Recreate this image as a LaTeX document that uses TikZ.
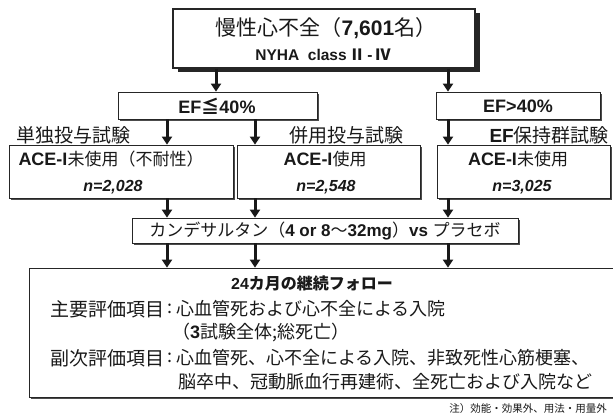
\documentclass[tikz,border=0pt]{standalone}
\usepackage{fontspec}
\setmainfont{Liberation Sans}
\newfontfamily\jp{Noto Sans CJK JP}
\newfontfamily\la{Liberation Sans}
\usetikzlibrary{arrows.meta,shadows}
\newcommand{\fs}[1]{\fontsize{#1}{#1}\selectfont}
\begin{document}
\begin{tikzpicture}[x=1pt,y=-1pt,
  box/.style={draw=black!85,line width=0.8pt,fill=white,inner sep=0pt,
    drop shadow={shadow xshift=1.5pt,shadow yshift=-1.5pt,fill=black!70,opacity=1}},
  bigshadow/.style={draw=black!85,line width=1.1pt,fill=white,inner sep=0pt,
    drop shadow={shadow xshift=4.5pt,shadow yshift=-4.5pt,fill=black!85,opacity=1}},
  arr/.style={line width=3pt,-{Triangle[width=10pt,length=8pt]},black!90},
  txt/.style={inner sep=0pt,text=black!90},
  jpt/.style={txt,font=\jp\fs{18}},
  lab/.style={txt,font=\jp\fs{19}},
]
\useasboundingbox (0,0) rectangle (613,420);
% column coordinates
\coordinate (xa) at (167,0);
\coordinate (xb) at (255,0);
\coordinate (xc) at (448,0);
\coordinate (xd) at (216,0);

% boxes
\node[bigshadow,minimum width=302pt,minimum height=59pt] (top) at (324,38.5) {};
\node[box,minimum width=199pt,minimum height=27pt] (ef1) at (217.5,105.5) {};
\node[box,minimum width=164pt,minimum height=27pt] (ef2) at (518,105.5) {};
\node[box,minimum width=224pt,minimum height=53pt] (ace1) at (121,171.5) {};
\node[box,minimum width=183pt,minimum height=53pt] (ace2) at (328.5,171.5) {};
\node[box,minimum width=173pt,minimum height=53pt] (ace3) at (523.5,171.5) {};
\node[box,minimum width=386pt,minimum height=25pt] (cand) at (325,230.5) {};
\node[box,minimum width=591pt,minimum height=129pt] (big) at (324.5,332.5) {};

% arrows
\draw[arr] (top.south -| xd) -- (ef1.north -| xd);
\draw[arr] (top.south -| xc) -- (ef2.north -| xc);
\draw[arr] (ef1.south -| xa) -- (ace1.north -| xa);
\draw[arr] (ef1.south -| xb) -- (ace2.north -| xb);
\draw[arr] (ef2.south -| xc) -- (ace3.north -| xc);
\draw[arr] (ace1.south -| xa) -- (cand.north -| xa);
\draw[arr] (ace2.south -| xb) -- (cand.north -| xb);
\draw[arr] (ace3.south -| xc) -- (cand.north -| xc);
\draw[arr] (cand.south -| xa) -- (big.north -| xa);
\draw[arr] (cand.south -| xb) -- (big.north -| xb);
\draw[arr] (cand.south -| xc) -- (big.north -| xc);

% top box text
\node[txt,font=\jp\fs{21}] (t1) at (326,28) {慢性心不全（{\la\bfseries 7,601}名）};
\node[txt,font=\la\bfseries\fs{15.5}] (t2) at (323,55) {NYHA\ \ class\,{\jp\bfseries Ⅱ}\,-\,{\jp\bfseries Ⅳ}};

% EF boxes
\node[txt,font=\la\bfseries\fs{18}] (e1) at (217,106) {EF{\jp ≦}40\%};
\node[txt,font=\la\bfseries\fs{18}] (e2) at (518,106) {EF>40\%};

% trial labels
\node[lab,anchor=west] (l1) at (16,135) {単独投与試験};
\node[lab,anchor=west] (l2) at (289,135) {併用投与試験};
\node[lab,anchor=east] (l3) at (609,135) {{\la\bfseries EF}保持群試験};

% ACE boxes
\node[txt,font=\jp\fs{17}] (a1) at (111,159) {{\la\bfseries\fs{18}ACE-I}未使用（不耐性）};
\node[txt,font=\la\bfseries\itshape\fs{16}] (n1) at (113,187) {n=2,028};
\node[txt,font=\jp\fs{17}] (a2) at (325,159) {{\la\bfseries\fs{18}ACE-I}使用};
\node[txt,font=\la\bfseries\itshape\fs{16}] (n2) at (326,187) {n=2,548};
\node[txt,font=\jp\fs{17}] (a3) at (518,159) {{\la\bfseries\fs{18}ACE-I}未使用};
\node[txt,font=\la\bfseries\itshape\fs{16}] (n3) at (522,187) {n=3,025};

% candesartan
\node[txt,font=\jp\fs{17}] (c1) at (325,231) {カンデサルタン（{\la\bfseries 4 or 8}～{\la\bfseries 32mg}）{\la\bfseries vs }プラセボ};

% follow-up box text
\node[txt,font=\jp\bfseries\fs{16}] (f0) at (312,283) {{\la\bfseries 24}カ月の継続フォロー};
\node[lab,anchor=west] (f1a) at (50,309) {主要評価項目};
\node[jpt] (f1b) at (170,309) {:};
\node[jpt,anchor=west] (f1c) at (176,309) {心血管死および心不全による入院};
\node[jpt,anchor=west] (f2) at (172,333) {（{\la\bfseries 3}試験全体;総死亡）};
\node[lab,anchor=west] (f3a) at (50,358) {副次評価項目};
\node[jpt] (f3b) at (170,358) {:};
\node[jpt,anchor=west] (f3c) at (176,358) {心血管死、心不全による入院、非致死性心筋梗塞、};
\node[jpt,anchor=west] (f4) at (178,382) {脳卒中、冠動脈血行再建術、全死亡および入院など};

% footnote
\node[txt,anchor=east,font=\jp\fs{10.5}] (fn) at (607,409) {注）効能・効果外、用法・用量外};
\end{tikzpicture}
\end{document}
